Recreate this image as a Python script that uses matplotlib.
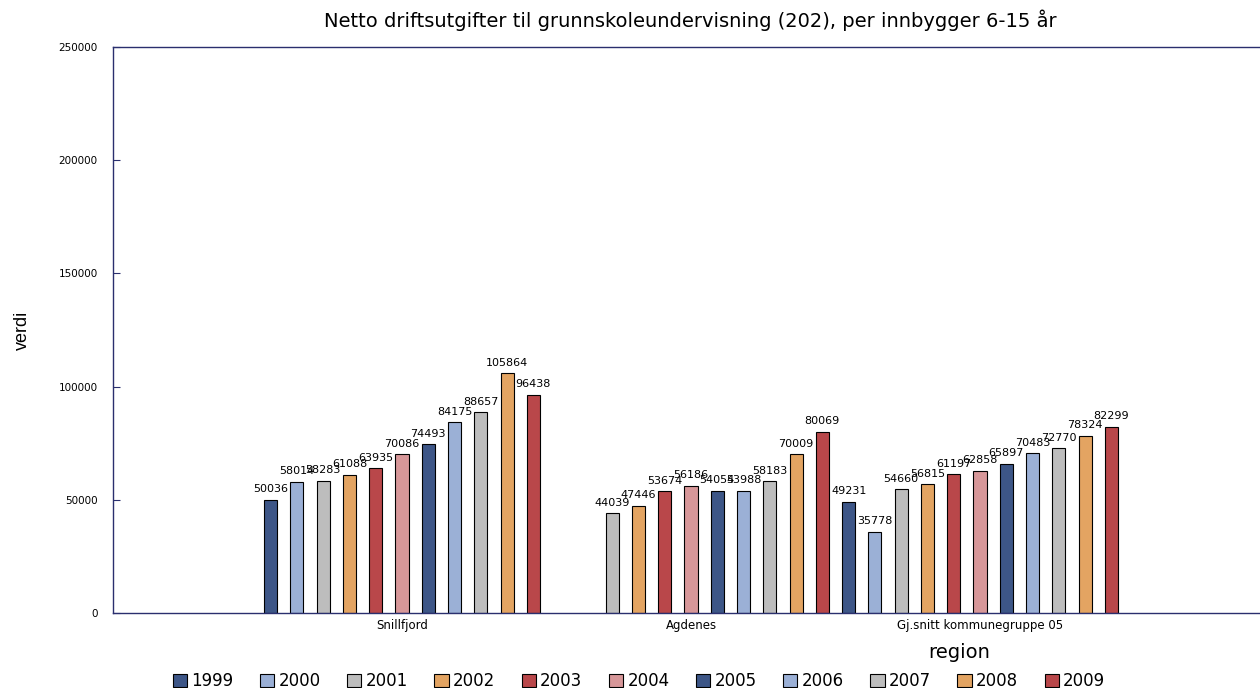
import numpy as np
import matplotlib.pyplot as plt

plt.rcParams['font.family'] = ['DejaVu Sans']

regions = ["Snillfjord", "Agdenes", "Gj.snitt kommunegruppe 05"]
years = ["1999", "2000", "2001", "2002", "2003", "2004",
         "2005", "2006", "2007", "2008", "2009"]
snillfjord = [50036, 58014, 58283, 61088, 63935, 70086, 74493, 84175, 88657, 105864, 96438]
agdenes = [None, None, 44039, 47446, 53674, 56186, 54054, 53988, 58183, 70009, 80069]
kommunegruppe = [49231, 35778, 54660, 56815, 61197, 62858, 65897, 70483, 72770, 78324, 82299]
values = [snillfjord, agdenes, kommunegruppe]

colors = ["#3d5687", "#9bb0d6", "#bdbdbd", "#e3a462", "#b9474a", "#d79799",
          "#3d5687", "#9bb0d6", "#bdbdbd", "#e3a462", "#b9474a"]
spine_col = "#2a2f6e"

fig = plt.figure(figsize=(12.6, 6.88), dpi=100)
ax = fig.add_axes([113 / 1260, 75 / 688, 1156 / 1260, 566 / 688])

nyear = len(years)
for j, yr in enumerate(years):
    xs, hs = [], []
    for i, reg in enumerate(regions):
        v = values[i][j]
        if v is None:
            continue
        xs.append(i * nyear + j)
        hs.append(v)
    ax.bar(xs, hs, width=0.5, color=colors[j], edgecolor="black",
           linewidth=0.8, label=yr)
    for x, h in zip(xs, hs):
        ax.text(x, h + 2500, str(h), ha="center", va="bottom", fontsize=8)

ax.set_xlim(-6, 38)
ax.set_ylim(0, 250000)
ax.set_yticks([0, 50000, 100000, 150000, 200000, 250000])
ax.tick_params(axis="y", direction="in", length=5, labelsize=7.5, color=spine_col, pad=11)
ax.set_xticks([i * nyear + (nyear - 1) / 2 for i in range(len(regions))])
ax.set_xticklabels(regions, fontsize=8.5)
ax.tick_params(axis="x", length=0, pad=4)
for s in ax.spines.values():
    s.set_color(spine_col)
    s.set_linewidth(1.0)

fig.text(690 / 1260, 1 - 20 / 688, "Netto driftsutgifter til grunnskoleundervisning (202), per innbygger 6-15 år",
         ha="center", va="center", fontsize=14)
fig.text(22 / 1260, 1 - 330 / 688, "verdi", rotation=90, ha="center", va="center",
         fontsize=13, family="Liberation Sans")
fig.text(959 / 1260, 1 - 652 / 688, "region", ha="center", va="center", fontsize=14)

fig.legend(loc="center", bbox_to_anchor=(639 / 1260, 1 - 681 / 688), ncol=11,
           frameon=False, fontsize=12, handlelength=0.85, handleheight=0.85,
           handletextpad=0.25, columnspacing=1.6, borderaxespad=0)

fig.savefig("out.png", dpi=100)
